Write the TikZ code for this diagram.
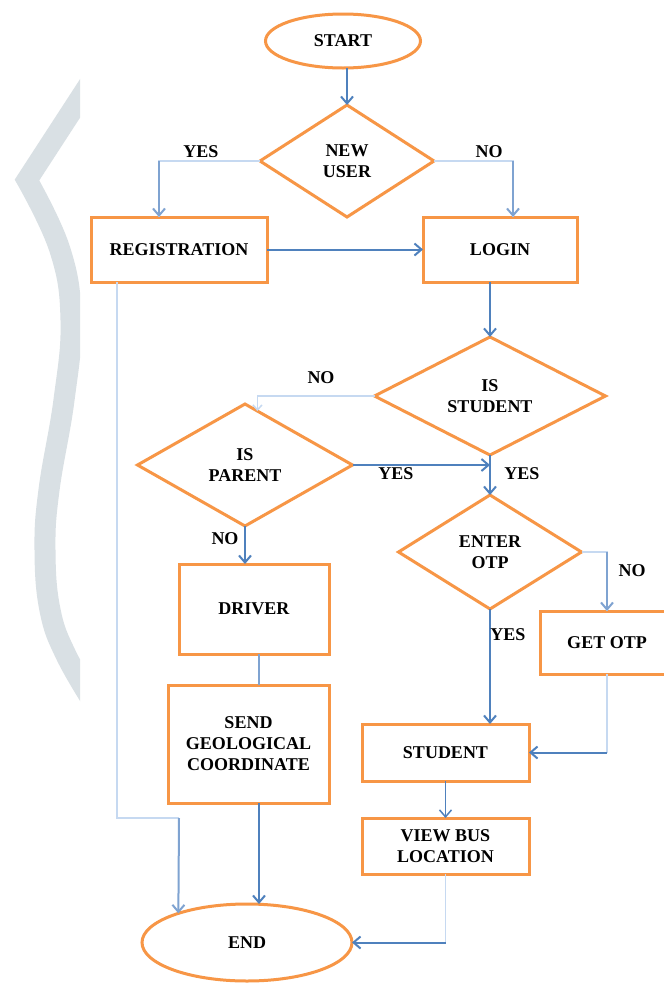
\documentclass[tikz,border=0pt]{standalone}
\usepackage{fontspec}
\setmainfont{Liberation Serif}
\usetikzlibrary{shapes.geometric,arrows.meta,calc}
\definecolor{orng}{HTML}{F79646}
\definecolor{bl}{HTML}{4F81BD}
\definecolor{blmid}{HTML}{7FA3D1}
\definecolor{blfaint}{HTML}{C6D9F1}
\definecolor{bandgrey}{HTML}{D9E0E4}
\begin{document}
\begin{tikzpicture}[x=1pt,y=-1pt,
  every node/.style={font=\fontsize{18}{21}\selectfont\bfseries, align=center, inner sep=0pt, outer sep=0pt},
  proc/.style={draw=orng, line width=3pt, rectangle},
  term/.style={draw=orng, line width=3pt, ellipse},
  dec/.style={draw=orng, line width=3pt, diamond},
  lab/.style={font=\fontsize{18}{21}\selectfont\bfseries},
  tipA/.style={-{Straight Barb[length=7pt,width=12pt]}},
  link/.style={draw=bl, line width=2pt, tipA},
  midlink/.style={draw=blmid, line width=2pt, tipA},
  plainline/.style={draw=blmid, line width=2pt},
  faint/.style={draw=blfaint, line width=1.5pt}
]
\useasboundingbox (0,0) rectangle (664,983);
\fill[white] (0,0) rectangle (664,983);

% decorative grey band on the left
\begin{scope}
  \clip (0,0) rectangle (80,983);
  \draw[line width=21pt, color=bandgrey, line join=miter]
    (105,60) -- plot[smooth, tension=0.7] coordinates {(27,180) (60,250) (71,320) (64,400) (49,490) (45,550) (50,610) (66,655) (95,705)};
\end{scope}

% nodes
\node[term, minimum width=155, minimum height=54] (START) at (343,41) {START};
\node[dec, minimum width=174, minimum height=112] (NEWUSER) at (347,161) {NEW\\USER};
\node[proc, minimum width=176, minimum height=65] (REG) at (179,249.5) {REGISTRATION};
\node[proc, minimum width=154, minimum height=65] (LOGIN) at (500,249.5) {LOGIN};
\node[dec, minimum width=231, minimum height=112] (ISSTUDENT) at (490,396) {IS\\STUDENT};
\node[dec, minimum width=215, minimum height=122] (ISPARENT) at (245,465) {IS\\PARENT};
\node[dec, minimum width=183, minimum height=114] (ENTEROTP) at (490,552) {ENTER\\OTP};
\node[proc, minimum width=134, minimum height=63] (GETOTP) at (607,642.5) {GET OTP};
\node[proc, minimum width=150, minimum height=90] (DRIVER) at (254,609) {DRIVER};
\node[proc, minimum width=161, minimum height=118] (SEND) at (248.5,744) {SEND\\GEOLOGICAL\\COORDINATE};
\node[proc, minimum width=167, minimum height=57] (STUDENT) at (445.5,752.5) {STUDENT};
\node[proc, minimum width=167, minimum height=56] (VIEWBUS) at (445.5,846) {VIEW BUS\\LOCATION};
\node[term, minimum width=210, minimum height=77] (END) at (247,942.5) {END};

% helper coordinates
\coordinate (cR) at (159,0);
\coordinate (cL) at (513,0);
\coordinate (cE1) at (117,818);
\coordinate (cE2) at (179,818);
\coordinate (cD) at (259,0);

% connectors
\draw[link] (START.south -| NEWUSER.north) -- (NEWUSER.north);

\draw[faint] (NEWUSER.west) -| (REG.north -| cR);
\draw[midlink] (NEWUSER.west -| cR) -- (REG.north -| cR);

\draw[faint] (NEWUSER.east) -| (LOGIN.north -| cL);
\draw[midlink] (NEWUSER.east -| cL) -- (LOGIN.north -| cL);

\draw[link] (REG.east) -- (LOGIN.west);

\draw[faint] (REG.south -| cE1) -- (cE1) -- (cE2);
\draw[midlink] (cE2) -- (END.157);

\draw[link] (LOGIN.south -| ISSTUDENT.north) -- (ISSTUDENT.north);

\draw[faint, -{Straight Barb[length=5pt,width=9pt]}] (ISSTUDENT.west) -| (ISPARENT.77);

\draw[link] (ISPARENT.east) -- (ISPARENT.east -| ISSTUDENT.south);

\draw[link] (ISSTUDENT.south) -- (ENTEROTP.north);

\draw[faint] (ENTEROTP.east) -| (GETOTP.north);
\draw[midlink] (ENTEROTP.east -| GETOTP.north) -- (GETOTP.north);

\draw[link] (ISPARENT.south) -- (ISPARENT.south |- DRIVER.north);

\draw[plainline] (DRIVER.south -| cD) -- (SEND.north -| cD);
\draw[link] (SEND.south -| cD) -- (cD |- END.north);

\draw[link] (ENTEROTP.south) -- (ENTEROTP.south |- STUDENT.north);

\draw[faint] (GETOTP.south) -- (GETOTP.south |- STUDENT.east);
\draw[link] (GETOTP.south |- STUDENT.east) -- (STUDENT.east);

\draw[link, line width=1.5pt] (STUDENT.south) -- (VIEWBUS.north);

\draw[faint] (VIEWBUS.south) -- (VIEWBUS.south |- END.east);
\draw[link] (VIEWBUS.south |- END.east) -- (END.east);

% labels
\node[lab] (l1) at (201,152) {YES};
\node[lab] (l2) at (489,152) {NO};
\node[lab] (l3) at (321,378) {NO};
\node[lab] (l4) at (396,474) {YES};
\node[lab] (l5) at (522,474) {YES};
\node[lab] (l6) at (225,539) {NO};
\node[lab] (l7) at (632,571) {NO};
\node[lab] (l8) at (508,635) {YES};
\end{tikzpicture}
\end{document}
